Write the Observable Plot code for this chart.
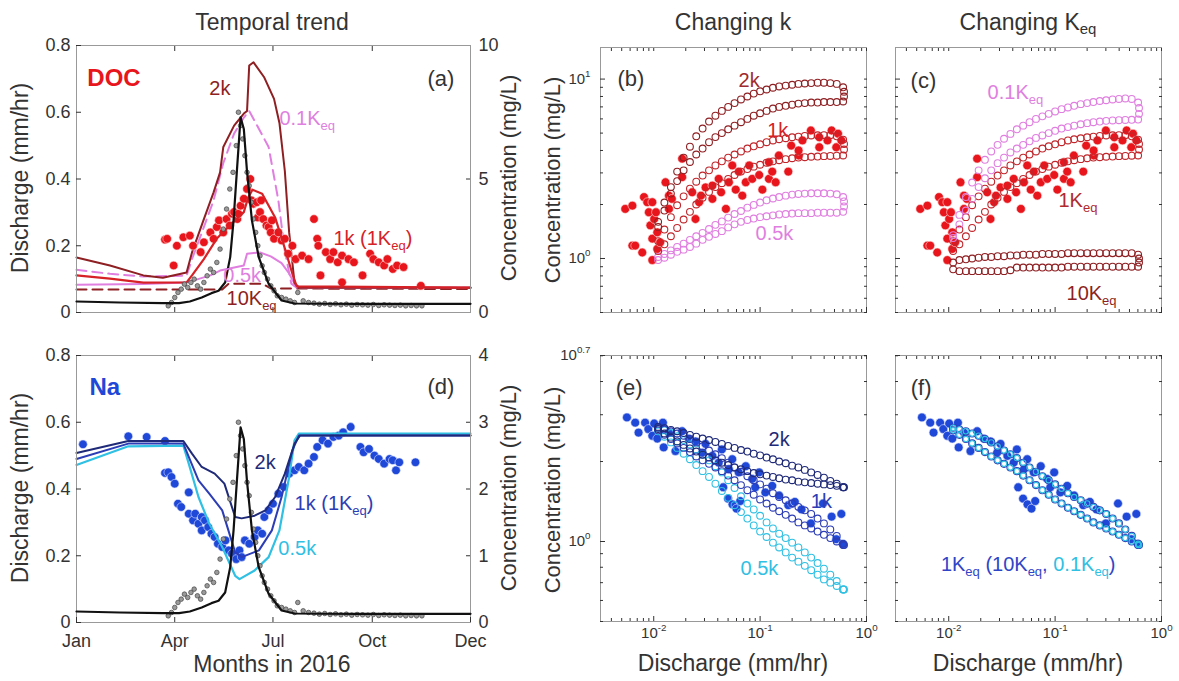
<!DOCTYPE html>
<html><head><meta charset="utf-8">
<script src="https://cdn.jsdelivr.net/npm/d3@7"></script>
<script src="https://cdn.jsdelivr.net/npm/@observablehq/plot@0.6"></script>
<style>
body{margin:0;background:#fff;font-family:"Liberation Sans",Arial,Helvetica,sans-serif;}
#fig{position:relative;width:1179px;height:681px;overflow:hidden;background:#fff;}
.lbl{position:absolute;color:#333;font-size:22px;white-space:nowrap;line-height:1;}
.lbl sub{font-size:65%;vertical-align:-0.3em;}
</style></head><body><div id="fig"></div><script>
// ---------------- DATA ----------------
const months = ["Jan","Apr","Jul","Oct","Dec"];
const monthDays = [0,91,182,274,365];

// modelled discharge (mm/hr) vs day of 2016
const qModelDays = [0,40,80,95,105,116,125,131.6,137.7,142.4,145.5,148.6,152,155,157.9,162.5,168.8,178,190,202,260,365];
const qModelVals = [0.033,0.03,0.028,0.028,0.033,0.045,0.058,0.065,0.09,0.166,0.276,0.425,0.585,0.55,0.425,0.276,0.166,0.086,0.036,0.027,0.026,0.026];
// observed discharge [day, mm/hr]
const qObs = [[85,0.02],[88,0.03],[91,0.045],[94,0.06],[97,0.07],[100,0.085],[103,0.075],[106,0.09],[109,0.1],[112,0.08],[115,0.07],[118,0.09],[121,0.11],[124,0.13],[127,0.12],[130,0.15],[133,0.19],[136,0.25],[139,0.31],[142,0.37],[145,0.42],[148,0.5],[150,0.6],[152,0.56],[154,0.52],[156,0.47],[158,0.42],[160,0.38],[162,0.33],[164,0.28],[166,0.24],[168,0.2],[170,0.17],[172,0.14],[174,0.12],[177,0.1],[180,0.08],[183,0.065],[186,0.05],[190,0.045],[194,0.04],[198,0.035],[202,0.03],[205,0.06],[210,0.035],[215,0.03],[220,0.028],[225,0.025],[230,0.027],[235,0.024],[240,0.026],[245,0.023],[250,0.025],[255,0.022],[260,0.024],[265,0.023],[270,0.022],[275,0.024],[280,0.021],[285,0.023],[290,0.022],[295,0.021],[300,0.022],[305,0.02],[310,0.021],[315,0.02],[320,0.02]];

// DOC model lines (mg/L)
const doc2kDays = [0,31,62,80,102,107,118,127,133,136,146,155,158,160,164,174,183,188,193,197,202,206,365];
const doc2kVals = [2.06,1.76,1.39,1.3,1.5,2.25,3.5,4.5,5.25,6.2,7.0,7.45,7.55,9.25,9.37,8.8,8.0,7.1,5.3,3.0,1.1,0.93,0.93];
const doc1kDays = [0,31,62,102,107,118,130,142,155,159,163,172,184,193,200,204,365];
const doc1kVals = [1.39,1.27,1.12,1.13,1.39,2.0,2.77,3.26,3.76,4.3,4.6,4.45,3.56,2.4,1.45,0.98,0.93];
const doc05Days = [0,62,102,124,133,155,158,170,180,190,197,202,207,365];
const doc05Vals = [1.04,1.07,1.12,1.39,1.57,1.76,2.2,2.25,2.1,1.85,1.46,1.08,0.93,0.93];
const doc01Days = [0,31,62,102,107,118,127,136,146,155,160,166,178,187,193,199,204,365];
const doc01Vals = [1.6,1.45,1.35,1.38,2.0,3.2,4.2,5.6,6.7,7.3,7.55,7.1,6.2,4.2,2.3,1.08,0.93,0.93];
const doc10Days = [0,135,141,172,180,365];
const doc10Vals = [0.86,0.86,1.08,1.08,0.9,0.88];
// observed DOC [day, mg/L]
const docObs = [[82,2.73],[84,2.76],[90,1.76],[93,2.5],[99,2.82],[105,2.88],[108,2.5],[115,2.26],[118,2.63],[124,3.0],[127,2.76],[130,3.2],[132,3.45],[136,3.0],[139,3.5],[142,3.26],[144,3.7],[146,3.76],[149,3.5],[150,3.7],[152,4.0],[155,4.26],[158,4.63],[161,5.0],[162,4.2],[164,4.07],[167,4.13],[168,3.56],[170,3.76],[171,4.2],[173,3.5],[176,3.26],[178,3.2],[180,3.0],[181,3.45],[183,2.76],[187,3.0],[190,2.7],[193,2.76],[196,2.2],[200,2.5],[203,2.0],[209,2.13],[215,2.0],[220,3.5],[223,2.76],[224,2.5],[226,1.39],[231,2.26],[235,2.0],[238,2.26],[242,1.88],[246,2.13],[246,1.13],[252,2.0],[257,1.88],[265,1.39],[272,2.2],[275,2.0],[280,1.88],[285,1.76],[288,2.0],[293,1.63],[297,1.76],[303,1.7],[319,1.0]];

// Na model lines (mg/L)
const na2kDays = [0,48,99,107,116,128,137,147,153,165,175,184,193,202,207,365];
const na2kVals = [2.54,2.72,2.72,2.53,2.33,2.23,2.08,1.58,1.56,1.6,1.68,1.88,2.23,2.68,2.8,2.8];
const na1kDays = [0,48,99,104,113,123,135,147,153,169,181,190,200,206,365];
const na1kVals = [2.45,2.68,2.68,2.48,2.13,1.93,1.68,1.05,0.98,1.08,1.38,1.88,2.58,2.8,2.8];
const na05Days = [0,48,99,104,113,123,135,147,151,165,178,188,197,202,206,365];
const na05Vals = [2.36,2.64,2.65,2.38,1.88,1.48,1.13,0.7,0.65,0.78,0.98,1.38,2.18,2.73,2.83,2.83];
// observed Na [day, mg/L]
const naObs = [[6,2.67],[48,2.79],[65,2.78],[82,2.72],[82,2.24],[85,2.25],[88,2.18],[91,2.08],[94,1.78],[97,1.73],[104,1.95],[104,1.63],[108,1.53],[110,1.63],[113,1.48],[116,1.58],[116,1.38],[119,1.53],[122,1.43],[125,1.33],[128,1.28],[131,1.18],[135,1.13],[138,1.23],[141,1.08],[144,1.03],[148,0.95],[151,1.08],[153,0.98],[156,1.23],[160,1.18],[165,1.28],[168,1.38],[172,1.33],[174,1.58],[178,1.68],[182,1.78],[187,1.93],[192,2.03],[197,2.23],[202,2.28],[206,2.33],[211,2.28],[215,2.38],[220,2.48],[223,2.63],[228,2.73],[233,2.68],[238,2.78],[243,2.8],[247,2.85],[254,2.93],[263,2.63],[266,2.55],[271,2.6],[276,2.5],[280,2.45],[285,2.38],[290,2.45],[293,2.43],[296,2.28],[299,2.4],[314,2.4]];

// C-Q loops: discharge sample positions and concentrations on the two limbs
const loopQ = [0.011,0.0126,0.0145,0.0166,0.0191,0.0219,0.0251,0.0288,0.0331,0.038,0.0437,0.0501,0.0575,0.0661,0.0759,0.0871,0.1,0.115,0.132,0.151,0.174,0.2,0.229,0.263,0.302,0.347,0.398,0.457,0.525,0.603];
const edgeQ = 0.615;
const b2kUp = [1.6,2.05,2.5,3.05,3.65,4.2,4.8,5.3,5.8,6.25,6.65,7.0,7.35,7.7,8.0,8.3,8.55,8.75,8.95,9.1,9.2,9.3,9.4,9.45,9.5,9.55,9.55,9.5,9.4,9.0];
const b2kLo = [1.5,1.85,2.3,2.7,3.1,3.45,3.8,4.1,4.45,4.75,5.0,5.25,5.5,5.75,6.0,6.25,6.45,6.65,6.85,7.0,7.1,7.2,7.3,7.35,7.4,7.4,7.45,7.45,7.45,7.5];
const b2kEdge = [8.5,8.0];
const b1kUp = [1.25,1.45,1.7,1.98,2.22,2.45,2.68,2.9,3.1,3.3,3.48,3.65,3.8,3.95,4.1,4.22,4.33,4.45,4.55,4.62,4.68,4.74,4.78,4.82,4.85,4.86,4.87,4.86,4.8,4.6];
const b1kLo = [1.1,1.2,1.33,1.48,1.65,1.82,2.0,2.18,2.35,2.5,2.63,2.78,2.92,3.05,3.15,3.25,3.33,3.42,3.48,3.53,3.58,3.62,3.65,3.67,3.69,3.7,3.72,3.73,3.74,3.75];
const b1kEdge = [4.35,4.05];
const b05Up = [1.02,1.06,1.11,1.16,1.21,1.27,1.33,1.39,1.46,1.54,1.61,1.69,1.77,1.84,1.92,1.99,2.05,2.11,2.16,2.2,2.24,2.27,2.29,2.3,2.31,2.31,2.31,2.3,2.28,2.2];
const b05Lo = [0.98,1.01,1.05,1.09,1.12,1.16,1.21,1.27,1.32,1.37,1.42,1.49,1.55,1.6,1.64,1.67,1.7,1.72,1.74,1.76,1.77,1.78,1.79,1.79,1.79,1.8,1.8,1.8,1.8,1.82];
const b05Edge = [2.08,1.95];
const c01Up = [1.35,1.75,2.2,2.65,3.1,3.55,3.95,4.3,4.65,4.95,5.25,5.5,5.75,6.0,6.2,6.4,6.6,6.8,6.95,7.1,7.25,7.35,7.45,7.55,7.62,7.7,7.75,7.8,7.75,7.4];
const c01Lo = [1.3,1.55,1.85,2.15,2.5,2.8,3.1,3.4,3.65,3.9,4.1,4.3,4.5,4.7,4.85,5.0,5.15,5.3,5.4,5.5,5.6,5.68,5.75,5.8,5.85,5.88,5.9,5.92,5.93,5.95];
const c01Edge = [6.9,6.4];
const c10Up = [0.95,0.98,0.99,1.0,1.01,1.02,1.02,1.03,1.03,1.04,1.04,1.05,1.05,1.05,1.06,1.06,1.06,1.06,1.07,1.07,1.07,1.07,1.07,1.07,1.07,1.07,1.07,1.07,1.07,1.05];
const c10Lo = [0.87,0.85,0.85,0.85,0.85,0.85,0.85,0.85,0.85,0.86,0.89,0.89,0.89,0.89,0.89,0.89,0.89,0.89,0.9,0.9,0.9,0.9,0.9,0.9,0.9,0.9,0.9,0.9,0.9,0.9];
const c10Edge = [1.0,0.95];
const e2kUp = [2.7,2.67,2.63,2.6,2.56,2.52,2.48,2.44,2.41,2.37,2.33,2.29,2.25,2.21,2.18,2.14,2.11,2.07,2.04,2.0,1.97,1.93,1.9,1.86,1.82,1.78,1.74,1.69,1.65,1.6];
const e2kLo = [2.65,2.55,2.46,2.38,2.31,2.24,2.18,2.12,2.07,2.02,1.98,1.94,1.9,1.87,1.84,1.81,1.79,1.77,1.75,1.73,1.71,1.7,1.68,1.67,1.66,1.65,1.64,1.63,1.62,1.6];
const e1kUp = [2.68,2.64,2.6,2.55,2.5,2.43,2.36,2.28,2.2,2.13,2.06,1.98,1.9,1.83,1.76,1.7,1.64,1.58,1.52,1.47,1.43,1.39,1.35,1.31,1.27,1.22,1.17,1.11,1.05,0.98];
const e1kLo = [2.62,2.52,2.43,2.34,2.25,2.17,2.09,2.02,1.96,1.9,1.84,1.77,1.7,1.63,1.56,1.5,1.44,1.39,1.34,1.3,1.26,1.22,1.18,1.15,1.12,1.09,1.06,1.03,1.0,0.97];
const e05Up = [2.68,2.62,2.56,2.49,2.41,2.32,2.22,2.12,2.02,1.92,1.82,1.7,1.59,1.48,1.39,1.32,1.25,1.18,1.12,1.07,1.03,0.99,0.95,0.91,0.87,0.83,0.79,0.75,0.71,0.66];
const e05Lo = [2.6,2.48,2.36,2.25,2.14,2.04,1.94,1.84,1.75,1.65,1.55,1.46,1.37,1.29,1.22,1.15,1.09,1.04,0.99,0.95,0.91,0.87,0.84,0.81,0.78,0.75,0.72,0.7,0.68,0.66];

// observed C-Q pairs [Q mm/hr, C mg/L]
const docQC = [[0.0054,1.89],[0.0063,1.97],[0.0063,1.18],[0.0067,1.18],[0.0078,1.08],[0.0081,2.2],[0.0087,2.06],[0.009,1.81],[0.0093,1.53],[0.0097,2.06],[0.0097,1.29],[0.0101,1.66],[0.0105,1.81],[0.0097,0.98],[0.0108,1.4],[0.0108,1.13],[0.0115,1.23],[0.0129,2.66],[0.0139,2.24],[0.0139,1.89],[0.0148,2.15],[0.0185,3.6],[0.0185,2.84],[0.023,2.34],[0.0247,1.66],[0.0267,2.06],[0.0278,2.24],[0.0307,2.49],[0.0356,2.55],[0.0356,2.15],[0.0408,2.78],[0.043,2.34],[0.0477,1.89],[0.0509,2.66],[0.0547,3.3],[0.059,2.42],[0.063,3.05],[0.068,2.24],[0.0733,2.66],[0.079,3.3],[0.0843,2.78],[0.098,2.92],[0.105,2.42],[0.121,3.44],[0.121,2.78],[0.13,3.05],[0.14,2.66],[0.15,3.75],[0.184,3.05],[0.196,4.26],[0.231,3.75],[0.25,4.55],[0.23,4.0],[0.3,5.17],[0.36,4.74],[0.36,4.17],[0.43,4.55],[0.47,5.17],[0.52,4.17],[0.54,4.96],[0.58,4.55]];
const naQC = [[0.0056,2.93],[0.0067,2.8],[0.0072,2.57],[0.0083,2.8],[0.0089,2.65],[0.0097,2.5],[0.0101,2.78],[0.0108,2.44],[0.0122,2.8],[0.0124,2.26],[0.0139,2.57],[0.016,2.19],[0.0185,2.6],[0.0214,2.44],[0.0247,2.38],[0.0285,2.16],[0.0307,2.33],[0.0356,2.1],[0.0408,1.98],[0.0437,2.22],[0.045,1.6],[0.05,1.45],[0.0509,1.87],[0.0547,2.04],[0.055,1.38],[0.06,1.33],[0.063,1.82],[0.065,1.42],[0.0733,1.92],[0.0843,1.72],[0.09,1.6],[0.098,1.82],[0.112,1.53],[0.13,1.62],[0.151,1.49],[0.184,1.37],[0.2,1.39],[0.212,1.41],[0.245,1.32],[0.3,1.17],[0.39,1.39],[0.47,1.24],[0.52,1.02],[0.58,1.27],[0.6,0.98]];

// axis tick values / labels
const dischTicks = [0,0.2,0.4,0.6,0.8];
const logXTicks = [0.01,0.1,1];
const logXLabels = ["10^{-2}","10^{-1}","10^{0}"];
const logXMinor = [0.004,0.005,0.006,0.007,0.008,0.009,0.02,0.03,0.04,0.05,0.06,0.07,0.08,0.09,0.2,0.3,0.4,0.5,0.6,0.7,0.8,0.9];
const docYMinor = [0.5,0.6,0.7,0.8,0.9,2,3,4,5,6,7,8,9];
const naYMinor = [0.5,0.6,0.7,0.8,0.9,2,3,4,5];

// colours
const C = {maroon:"#8e1f22", red:"#d62226", pink:"#e07fe0", obsRed:"#e8161c", navy:"#1f2a78", blue:"#2c3db5", cyan:"#2fc0e3", obsBlue:"#1f47d8"};

// ---------------- HELPERS ----------------
const FONT = '"Liberation Sans", Arial, Helvetica, sans-serif';
const fig = document.getElementById("fig");
const baseStyle = {background:"transparent", fontFamily:FONT, fontSize:"18px", color:"#333", overflow:"visible"};
const NS = "http://www.w3.org/2000/svg";
function rich(svg){
  svg.querySelectorAll("text").forEach(t=>{
    if (t.querySelector("tspan")) return;
    const s = t.textContent;
    if (!/[_^]\{|\|/.test(s)) return;
    while (t.firstChild) t.removeChild(t.firstChild);
    let alt=false, buf="", i=0;
    const add=(txt,shift)=>{ if(!txt) return; const sp=document.createElementNS(NS,"tspan"); sp.textContent=txt;
      if(shift){ sp.setAttribute("font-size","65%"); sp.setAttribute("baseline-shift", shift==="sub"?"-0.35em":"0.7em"); }
      if(alt) sp.setAttribute("fill", C.cyan); t.appendChild(sp); };
    while(i<s.length){ const c=s[i];
      if((c==="_"||c==="^")&&s[i+1]==="{"){ add(buf); buf=""; const j=s.indexOf("}",i); add(s.slice(i+2,j), c==="_"?"sub":"sup"); i=j+1; }
      else if(c==="|"){ add(buf); buf=""; alt=!alt; i++; }
      else { buf+=c; i++; } }
    add(buf);
  });
}
function place(svg,l,t){ svg.style.position="absolute"; svg.style.left=l+"px"; svg.style.top=t+"px"; svg.style.maxWidth="none"; rich(svg); fig.appendChild(svg); }
function html(text,x,y,rot,size){ const d=document.createElement("div"); d.className="lbl"; d.innerHTML=text; d.style.left=x+"px"; d.style.top=y+"px";
  d.style.transform = rot ? "translate(-50%,-50%) rotate(-90deg)" : "translate(-50%,-50%)"; if(size) d.style.fontSize=size+"px"; fig.appendChild(d); }
const series = (days,vals) => days.map((d,i)=>({x:d,y:vals[i]}));
const pairs = arr => arr.map(([x,y])=>({x,y}));
const loop = (up,lo,edge) => [...loopQ.map((q,i)=>({x:q,y:up[i]})), ...edge.map(c=>({x:edgeQ,y:c})), ...loopQ.map((q,i)=>({x:q,y:lo[i]}))];
const ann = (x,y,text,fill,opts={}) => Plot.text([{x,y,text}], {x:"x",y:"y",text:"text",fill,fontSize:opts.size||20,fontWeight:opts.bold?"bold":"normal",textAnchor:opts.anchor||"start"});

// ---------------- TIME PANELS (a) and (d) ----------------
function timePanel({top,h,mt,mb,concDomain,concTicks,showX,concMarks,dischMarks}){
  const common = {width:530,height:h,marginLeft:76,marginRight:60,marginTop:mt,marginBottom:mb,style:baseStyle};
  const conc = Plot.plot({...common, x:{domain:[0,365],axis:null}, y:{domain:concDomain},
    marks:[Plot.axisY({anchor:"right",ticks:concTicks,tickFormat:d=>String(d),tickSize:-5,tickPadding:13,label:null}), ...concMarks]});
  place(conc,0,top);
  const disch = Plot.plot({...common, x:{domain:[0,365]}, y:{domain:[0,0.8]},
    marks:[
      Plot.frame({stroke:"#999"}),
      Plot.axisY({ticks:dischTicks,tickFormat:d=>String(d),tickSize:-5,tickPadding:11,label:null}),
      Plot.axisX({ticks: showX?monthDays:[91,182,274], tickFormat: showX ? (d=>months[monthDays.indexOf(d)]) : (()=>""), tickSize:-5, tickPadding:17, label:null}),
      Plot.axisX({anchor:"top",ticks:[91,182,274],tickFormat:()=>"",tickSize:-5,label:null}),
      ...dischMarks]});
  place(disch,0,top);
}
const qLine = Plot.line(series(qModelDays,qModelVals),{x:"x",y:"y",stroke:"#111",strokeWidth:2.2});
const qDots = Plot.dot(pairs(qObs),{x:"x",y:"y",r:2.3,fill:"#9a9a9a",stroke:"#444",strokeWidth:0.7});

timePanel({top:0,h:330,mt:45,mb:18,concDomain:[0,10],concTicks:[0,5,10],showX:false,
  concMarks:[
    Plot.line(series(doc10Days,doc10Vals),{x:"x",y:"y",stroke:C.maroon,strokeWidth:2,strokeDasharray:"10,6"}),
    Plot.line(series(doc05Days,doc05Vals),{x:"x",y:"y",stroke:C.pink,strokeWidth:2}),
    Plot.line(series(doc01Days,doc01Vals),{x:"x",y:"y",stroke:C.pink,strokeWidth:2,strokeDasharray:"10,6"}),
    Plot.line(series(doc2kDays,doc2kVals),{x:"x",y:"y",stroke:C.maroon,strokeWidth:2}),
    Plot.dot(pairs(docObs),{x:"x",y:"y",r:4.3,fill:C.obsRed,stroke:"#ffdddd",strokeWidth:0.6}),
    Plot.line(series(doc1kDays,doc1kVals),{x:"x",y:"y",stroke:C.red,strokeWidth:2.2})
  ],
  dischMarks:[qDots,qLine,
    ann(10,0.701,"DOC",C.obsRed,{bold:true,size:24}),
    ann(350,0.701,"(a)","#333",{anchor:"end",size:22}),
    ann(123,0.671,"2k",C.maroon),
    ann(188,0.581,"0.1K_{eq}",C.pink),
    ann(238,0.222,"1k (1K_{eq})",C.red),
    ann(136,0.111,"0.5k",C.pink),
    ann(139,0.042,"10K_{eq}",C.maroon)
  ]});

timePanel({top:330,h:351,mt:25,mb:59,concDomain:[0,4],concTicks:[0,1,2,3,4],showX:true,
  concMarks:[
    Plot.dot(pairs(naObs),{x:"x",y:"y",r:4.3,fill:C.obsBlue,stroke:"#dde4ff",strokeWidth:0.6}),
    Plot.line(series(na05Days,na05Vals),{x:"x",y:"y",stroke:C.cyan,strokeWidth:2.2}),
    Plot.line(series(na1kDays,na1kVals),{x:"x",y:"y",stroke:C.blue,strokeWidth:2}),
    Plot.line(series(na2kDays,na2kVals),{x:"x",y:"y",stroke:C.navy,strokeWidth:2})
  ],
  dischMarks:[qDots,qLine,
    ann(12,0.705,"Na",C.obsBlue,{bold:true,size:24}),
    ann(350,0.705,"(d)","#333",{anchor:"end",size:22}),
    ann(165,0.48,"2k",C.navy),
    ann(202,0.356,"1k (1K_{eq})",C.blue),
    ann(187,0.221,"0.5k",C.cyan)
  ]});

// ---------------- C-Q PANELS ----------------
function logPanel({left,top,width,height,ml,mr,mt,mb,yDomain,yTicks,yFmt,yMinor,showX,marks}){
  const svg = Plot.plot({width,height,marginLeft:ml,marginRight:mr,marginTop:mt,marginBottom:mb,
    style:{...baseStyle,fontSize:"15px"},
    x:{type:"log",domain:[0.00316,1]}, y:{type:"log",domain:yDomain},
    marks:[
      Plot.frame({stroke:"#999"}),
      Plot.axisY({ticks:yTicks,tickFormat:yFmt,tickSize:-5,tickPadding:15,label:null}),
      Plot.axisY({ticks:yMinor,tickFormat:()=>"",tickSize:-3,label:null}),
      Plot.axisY({anchor:"right",ticks:[...yTicks,...yMinor],tickFormat:()=>"",tickSize:-3,label:null}),
      Plot.axisX({ticks:logXTicks,tickFormat:showX?(d=>logXLabels[logXTicks.indexOf(d)]):(()=>""),tickSize:-5,tickPadding:11,label:null}),
      Plot.axisX({ticks:logXMinor,tickFormat:()=>"",tickSize:-3,label:null}),
      Plot.axisX({anchor:"top",ticks:[...logXTicks,...logXMinor],tickFormat:()=>"",tickSize:-3,label:null}),
      ...marks]});
  place(svg,left,top);
}
const ring = (data,stroke,r=3.4) => Plot.dot(data,{x:"x",y:"y",r,stroke,strokeWidth:1.1,fill:"none"});
const docDots = Plot.dot(pairs(docQC),{x:"x",y:"y",r:4.4,fill:C.obsRed,stroke:"#ffdddd",strokeWidth:0.6});
const naDots = Plot.dot(pairs(naQC),{x:"x",y:"y",r:4.4,fill:C.obsBlue,stroke:"#dde4ff",strokeWidth:0.6});
const docFmt = d => d < 5 ? "10^{0}" : "10^{1}";
const naFmt = d => d < 2 ? "10^{0}" : "10^{0.7}";
const noFmt = () => "";

logPanel({left:530,top:0,width:350,height:330,ml:70,mr:14,mt:47,mb:18,yDomain:[0.5,15],yTicks:[1,10],yFmt:docFmt,yMinor:docYMinor,showX:false,
  marks:[docDots,
    ring(loop(b05Up,b05Lo,b05Edge),C.pink),
    ring(loop(b1kUp,b1kLo,b1kEdge),"#c0262b"),
    ring(loop(b2kUp,b2kLo,b2kEdge),C.maroon),
    ann(0.00457,10,"(b)","#333",{size:22}),
    ann(0.0627,9.8,"2k","#a02a2d"),
    ann(0.1167,5.17,"1k",C.red),
    ann(0.0906,1.38,"0.5k",C.pink)]});
logPanel({left:880,top:0,width:299,height:330,ml:15,mr:18,mt:47,mb:18,yDomain:[0.5,15],yTicks:[1,10],yFmt:noFmt,yMinor:docYMinor,showX:false,
  marks:[docDots,
    ring(loop(c10Up,c10Lo,c10Edge),C.maroon),
    ring(loop(b1kUp,b1kLo,b1kEdge),"#c0262b"),
    ring(loop(c01Up,c01Lo,c01Edge),C.pink),
    ann(0.00438,9.8,"(c)","#333",{size:22}),
    ann(0.0232,8.4,"0.1K_{eq}",C.pink),
    ann(0.1076,2.1,"1K_{eq}","#b02a2e"),
    ann(0.128,0.64,"10K_{eq}",C.maroon)]});
logPanel({left:530,top:330,width:350,height:351,ml:70,mr:14,mt:25,mb:60,yDomain:[0.5,5.0119],yTicks:[1,5.0119],yFmt:naFmt,yMinor:naYMinor,showX:true,
  marks:[naDots,
    ring(loop(e05Up,e05Lo,[0.66]),C.cyan),
    ring(loop(e1kUp,e1kLo,[0.97]),C.blue),
    ring(loop(e2kUp,e2kLo,[1.6]),C.navy),
    ann(0.0044,3.77,"(e)","#333",{size:22}),
    ann(0.12,2.42,"2k",C.navy),
    ann(0.30,1.41,"1k",C.blue),
    ann(0.0655,0.79,"0.5k",C.cyan)]});
logPanel({left:880,top:330,width:299,height:351,ml:15,mr:18,mt:25,mb:60,yDomain:[0.5,5.0119],yTicks:[1,5.0119],yFmt:noFmt,yMinor:naYMinor,showX:true,
  marks:[naDots,
    ring(loop(e1kUp,e1kLo,[0.97]),C.blue,3.5),
    ring(loop(e1kUp,e1kLo,[0.97]),C.cyan,2.7),
    ann(0.0044,3.77,"(f)","#333",{size:22}),
    ann(0.00844,0.82,"1K_{eq} (10K_{eq}, |0.1K_{eq}|)","#2f45c8")]});

// ---------------- TITLES & AXIS LABELS ----------------
html("Temporal trend",272,22,false,23);
html("Changing k",733,22,false,23);
html("Changing K<sub>eq</sub>",1028,24,false,23);
html("Discharge (mm/hr)",20,178,true,23);
html("Discharge (mm/hr)",20,488,true,23);
html("Concentration (mg/L)",509,178,true,22);
html("Concentration (mg/L)",509,488,true,22);
html("Concentration (mg/L)",553,180,true,22);
html("Concentration (mg/L)",553,490,true,22);
html("Months in 2016",272,664,false,23);
html("Discharge (mm/hr)",733,663,false,23);
html("Discharge (mm/hr)",1028,663,false,23);
</script></body></html>
